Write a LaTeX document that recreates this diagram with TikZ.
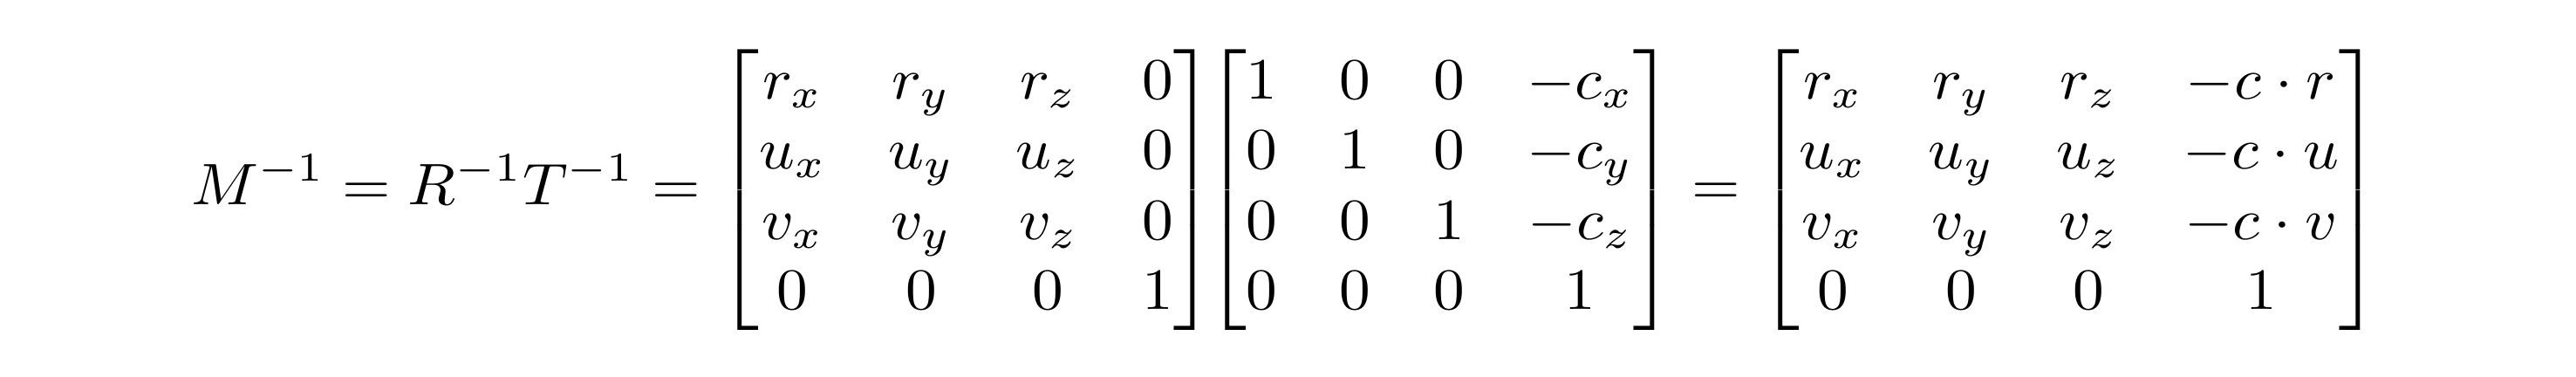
\documentclass[tikz,border=0pt]{standalone}
\usepackage{amsmath}
\usepackage{graphicx}
\begin{document}
\begin{tikzpicture}[x=1pt,y=1pt]
\path[use as bounding box, fill=white] (0,0) rectangle (295.3,43.1);
\node[inner sep=0pt, anchor=west] (eq) at (21.7,21.3) {\resizebox*{251pt}{32.2pt}{$\displaystyle
M^{-1}=R^{-1}T^{-1}=
\begin{bmatrix}
r_x & r_y & r_z & 0\\
u_x & u_y & u_z & 0\\
v_x & v_y & v_z & 0\\
0 & 0 & 0 & 1
\end{bmatrix}\!\!
\begin{bmatrix}
1 & 0 & 0 & -c_x\\
0 & 1 & 0 & -c_y\\
0 & 0 & 1 & -c_z\\
0 & 0 & 0 & 1
\end{bmatrix}
=
\begin{bmatrix}
r_x & r_y & r_z & -c\cdot r\\
u_x & u_y & u_z & -c\cdot u\\
v_x & v_y & v_z & -c\cdot v\\
0 & 0 & 0 & 1
\end{bmatrix}$}};
\end{tikzpicture}
\end{document}
